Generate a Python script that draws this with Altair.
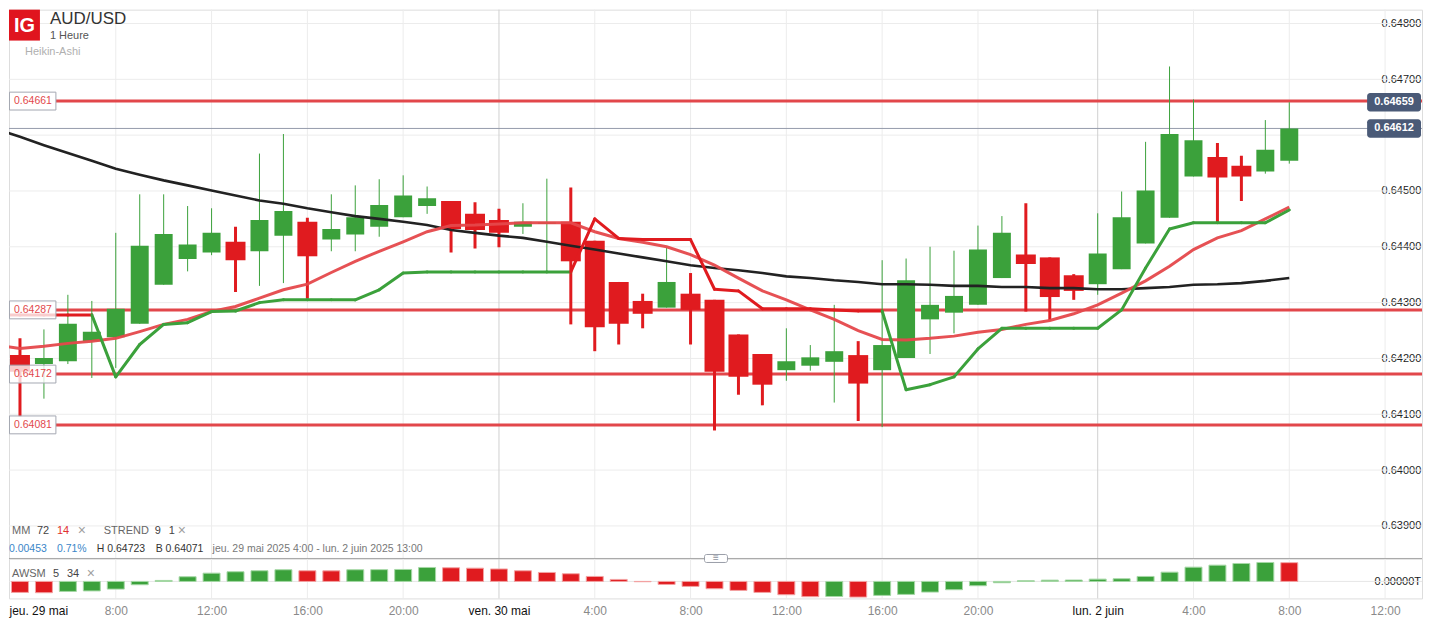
import altair as alt
import pandas as pd

# ---------------- data ----------------
open_ = [0.64234, 0.64206, 0.64190, 0.64195, 0.64231, 0.64238, 0.64262, 0.64332, 0.64378, 0.64390,
         0.64409, 0.64392, 0.64420, 0.64445, 0.64413, 0.64422, 0.64436, 0.64453, 0.64473, 0.64482,
         0.64459, 0.64448, 0.64436, 0.64441, 0.64445, 0.64411, 0.64337, 0.64303, 0.64291, 0.64316,
         0.64305, 0.64243, 0.64208, 0.64179, 0.64187, 0.64194, 0.64206, 0.64179, 0.64201, 0.64270,
         0.64282, 0.64296, 0.64344, 0.64386, 0.64381, 0.64349, 0.64333, 0.64360, 0.64406, 0.64452,
         0.64526, 0.64561, 0.64545, 0.64535, 0.64554]
close_ = [0.64190, 0.64176, 0.64201, 0.64262, 0.64248, 0.64289, 0.64402, 0.64423, 0.64404, 0.64425,
          0.64376, 0.64448, 0.64464, 0.64383, 0.64432, 0.64453, 0.64475, 0.64492, 0.64487, 0.64432,
          0.64430, 0.64425, 0.64445, 0.64444, 0.64374, 0.64256, 0.64262, 0.64280, 0.64337, 0.64287,
          0.64176, 0.64167, 0.64153, 0.64195, 0.64202, 0.64213, 0.64155, 0.64224, 0.64340, 0.64296,
          0.64312, 0.64395, 0.64425, 0.64369, 0.64310, 0.64321, 0.64388, 0.64453, 0.64501, 0.64602,
          0.64591, 0.64524, 0.64526, 0.64574, 0.64612]
high_ = [0.64240, 0.64236, 0.64252, 0.64314, 0.64303, 0.64425, 0.64494, 0.64494, 0.64473, 0.64469,
         0.64436, 0.64567, 0.64602, 0.64452, 0.64494, 0.64510, 0.64521, 0.64528, 0.64508, 0.64482,
         0.64480, 0.64468, 0.64478, 0.64522, 0.64506, 0.64411, 0.64337, 0.64316, 0.64399, 0.64353,
         0.64305, 0.64243, 0.64208, 0.64254, 0.64224, 0.64296, 0.64231, 0.64376, 0.64379, 0.64400,
         0.64393, 0.64438, 0.64455, 0.64478, 0.64381, 0.64351, 0.64460, 0.64499, 0.64588, 0.64723,
         0.64664, 0.64586, 0.64563, 0.64627, 0.64659]
low_ = [0.64185, 0.64096, 0.64128, 0.64190, 0.64165, 0.64183, 0.64262, 0.64332, 0.64356, 0.64385,
        0.64319, 0.64330, 0.64335, 0.64307, 0.64392, 0.64392, 0.64418, 0.64453, 0.64459, 0.64390,
        0.64397, 0.64399, 0.64423, 0.64356, 0.64261, 0.64213, 0.64225, 0.64254, 0.64291, 0.64225,
        0.64071, 0.64135, 0.64116, 0.64160, 0.64178, 0.64121, 0.64088, 0.64077, 0.64201, 0.64208,
        0.64245, 0.64296, 0.64344, 0.64284, 0.64268, 0.64305, 0.64314, 0.64360, 0.64406, 0.64452,
        0.64526, 0.64443, 0.64482, 0.64531, 0.64549]
mm72 = [0.64611, 0.64597, 0.64582, 0.64568, 0.64554, 0.64540, 0.64529, 0.64519, 0.64510, 0.64501,
        0.64492, 0.64483, 0.64477, 0.64469, 0.64462, 0.64455, 0.64450, 0.64445, 0.64439, 0.64430,
        0.64425, 0.64420, 0.64416, 0.64409, 0.64402, 0.64395, 0.64388, 0.64381, 0.64374, 0.64367,
        0.64362, 0.64358, 0.64353, 0.64347, 0.64344, 0.64340, 0.64337, 0.64333, 0.64333, 0.64332,
        0.64330, 0.64330, 0.64328, 0.64328, 0.64326, 0.64326, 0.64324, 0.64324, 0.64326, 0.64328,
        0.64332, 0.64333, 0.64335, 0.64339, 0.64344]
mm14 = [0.64224, 0.64218, 0.64222, 0.64227, 0.64231, 0.64236, 0.64248, 0.64261, 0.64270, 0.64284,
        0.64293, 0.64308, 0.64323, 0.64333, 0.64354, 0.64374, 0.64392, 0.64409, 0.64427, 0.64438,
        0.64439, 0.64441, 0.64443, 0.64443, 0.64443, 0.64427, 0.64415, 0.64408, 0.64400, 0.64386,
        0.64367, 0.64344, 0.64321, 0.64305, 0.64287, 0.64270, 0.64250, 0.64234, 0.64233, 0.64236,
        0.64240, 0.64247, 0.64252, 0.64261, 0.64268, 0.64280, 0.64296, 0.64317, 0.64339, 0.64365,
        0.64395, 0.64416, 0.64429, 0.64450, 0.64471]
strend = [0.64278, 0.64278, 0.64278, 0.64278, 0.64278, 0.64167, 0.64225, 0.64261, 0.64264, 0.64284,
          0.64285, 0.64300, 0.64305, 0.64305, 0.64305, 0.64305, 0.64323, 0.64353, 0.64355, 0.64355,
          0.64355, 0.64355, 0.64355, 0.64355, 0.64355, 0.64450, 0.64415, 0.64413, 0.64413, 0.64413,
          0.64324, 0.64321, 0.64289, 0.64289, 0.64289, 0.64287, 0.64285, 0.64285, 0.64144, 0.64153,
          0.64167, 0.64217, 0.64254, 0.64254, 0.64254, 0.64254, 0.64254, 0.64287, 0.64362, 0.64432,
          0.64443, 0.64443, 0.64443, 0.64443, 0.64466]
awsm = [-0.00020, -0.00022, -0.000226, -0.00020, -0.00019, -0.000154, -0.000066, 0.00002, 0.000094, 0.000166,
        0.000194, 0.000214, 0.000234, 0.000214, 0.000212, 0.000234, 0.000236, 0.00024, 0.00028, 0.000274,
        0.000266, 0.00025, 0.000214, 0.00018, 0.000154, 0.0001, 0.00004, -0.000006, -0.00006, -0.0001,
        -0.000146, -0.00018, -0.00022, -0.000266, -0.000306, -0.000302, -0.000314, -0.00028, -0.00026, -0.000214,
        -0.000166, -0.000086, -0.000026, 0.000014, 0.000026, 0.000028, 0.000046, 0.000054, 0.0001, 0.000186,
        0.000286, 0.000326, 0.00036, 0.00038, 0.000376]

levels = [0.64661, 0.64287, 0.64172, 0.64081]
price_ticks = [0.639, 0.640, 0.641, 0.642, 0.643, 0.644, 0.645, 0.646, 0.647, 0.648]
hidden_ticks = [0.646]  # covered by the current-price tag in the reference
time_ticks = [1, 5, 9, 13, 17, 21, 25, 29, 33, 37, 41, 46, 50, 54, 58]
time_labels = ["jeu. 29 mai", "8:00", "12:00", "16:00", "20:00", "ven. 30 mai", "4:00", "8:00",
               "12:00", "16:00", "20:00", "lun. 2 juin", "4:00", "8:00", "12:00"]
date_ticks = [1, 21, 46]

# ---------------- styling ----------------
FONT = "Liberation Sans"
GREEN = "#3ba13b"
RED = "#e01b1f"
LEVEL_RED = "#e2474b"
W, HT, HB = 1416, 550, 40
AW_DOMAIN = [-0.00034, 0.00046]

xs = alt.Scale(domain=[0.5417, 59.5417], nice=False, zero=False, padding=0)
ys = alt.Scale(domain=[0.638417, 0.648248], nice=False, zero=False, padding=0)
ws = alt.Scale(domain=AW_DOMAIN, nice=False, zero=False, padding=0)

label_ticks = [p for p in price_ticks if p not in hidden_ticks]
yaxis = alt.Axis(orient="right", offset=-41, values=label_ticks, format=".5f", grid=False,
                 ticks=False, domain=False, labelPadding=0, labelAlign="left", labelFontSize=11,
                 labelColor="#222222", labelFont=FONT, title=None)

label_expr = "[" + ",".join("'%s'" % s for s in time_labels) + "][indexof([" + \
    ",".join(str(t) for t in time_ticks) + "], datum.value)]"
date_test = " || ".join("datum.value == %d" % t for t in date_ticks)
xaxis_b = alt.Axis(values=time_ticks, labelExpr=label_expr, grid=False, ticks=False, domain=False,
                   labelPadding=7, labelFontSize=12, labelFont=FONT, labelFlush=20, labelFlushOffset=11,
                   labelColor={"condition": {"test": date_test, "value": "#111111"}, "value": "#8a8a8a"},
                   title=None)
waxis = alt.Axis(orient="right", offset=-48, values=[0], labelExpr="'0.00000T'", grid=False, ticks=False,
                 domain=False, labelPadding=0, labelAlign="left", labelFontSize=11, labelColor="#222222",
                 labelFont=FONT, title=None)


def X(f):
    return alt.X(f, type="quantitative", scale=xs, axis=None)


def Y(f):
    return alt.Y(f, type="quantitative", scale=ys, axis=yaxis)


def XB(f):
    return alt.X(f, type="quantitative", scale=xs, axis=xaxis_b)


def YW(f):
    return alt.Y(f, type="quantitative", scale=ws, axis=waxis)


n = len(open_)
df = pd.DataFrame(dict(i=list(range(n)), open=open_, high=high_, low=low_, close=close_,
                       mm72=mm72, mm14=mm14, st=strend, aw=awsm))
df["up"] = df["close"] >= df["open"]
df["st_up"] = df["st"] < df["close"]
df["aw_up"] = df["aw"].diff() > 0
df["zero"] = 0.0

seg = pd.DataFrame({"x0": df["i"].shift(1), "x1": df["i"], "y0": df["st"].shift(1),
                    "y1": df["st"], "up": df["st_up"]}).dropna()

vg = pd.DataFrame({"t": time_ticks, "date": [t in date_ticks for t in time_ticks]})
vg = vg[vg["t"] != time_ticks[0]]

dummy = pd.DataFrame({"k": [0]})
base = alt.Chart(df)


def txt(text, x, y, color="#666666", size=11, weight="normal", align="left"):
    return alt.Chart(dummy).mark_text(text=text, align=align, baseline="middle", color=color,
                                      fontSize=size, fontWeight=weight, font=FONT).encode(
        x=alt.value(x), y=alt.value(y))


# ---------------- price pane ----------------
hgrid = alt.Chart(pd.DataFrame({"p": price_ticks})).mark_rule(color="#ececec", strokeWidth=1).encode(
    y=Y("p"), x=alt.value(0), x2=alt.value(W))
vgrid = alt.Chart(vg).mark_rule(strokeWidth=1).encode(
    x=X("t"), y=alt.value(0), y2=alt.value(HT),
    color=alt.condition("datum.date", alt.value("#d0d0d0"), alt.value("#ececec")))
lvl = alt.Chart(pd.DataFrame({"p": levels})).mark_rule(color=LEVEL_RED, strokeWidth=3).encode(
    y=Y("p"), x=alt.value(47), x2=alt.value(W))
last = alt.Chart(pd.DataFrame({"p": [close_[-1]]})).mark_rule(color="#959cab", strokeWidth=1).encode(
    y=Y("p"), x=alt.value(0), x2=alt.value(W))

wick_up = base.transform_filter("datum.up").mark_rule(color=GREEN, strokeWidth=1, clip=True).encode(
    x=X("i"), y=Y("low"), y2="high")
wick_dn = base.transform_filter("!datum.up").mark_rule(color=RED, strokeWidth=3, clip=True).encode(
    x=X("i"), y=Y("low"), y2="high")
body_up = base.transform_filter("datum.up").mark_bar(color=GREEN, size=18, clip=True).encode(
    x=X("i"), y=Y("open"), y2="close")
body_dn = base.transform_filter("!datum.up").mark_bar(color=RED, size=20, clip=True).encode(
    x=X("i"), y=Y("open"), y2="close")

line72 = base.mark_line(color="#222222", strokeWidth=2.6, clip=True).encode(x=X("i"), y=Y("mm72"))
line14 = base.mark_line(color="#e5484b", strokeWidth=3, clip=True, opacity=0.95).encode(x=X("i"), y=Y("mm14"))
st_line = alt.Chart(seg).mark_rule(strokeWidth=3, strokeCap="round", clip=True).encode(
    x=X("x0"), x2="x1", y=Y("y0"), y2="y1",
    color=alt.condition("datum.up", alt.value(GREEN), alt.value(RED)))

lvl_df = pd.DataFrame({"p": levels})
lbox = alt.Chart(lvl_df).transform_calculate(hi="datum.p + 0.00016", lo="datum.p - 0.00016").mark_rect(
    fill="white", fillOpacity=0.78, stroke="#a4a8b2", strokeWidth=1).encode(
    x=alt.value(0.5), x2=alt.value(47), y=Y("hi"), y2="lo")
ltxt = alt.Chart(lvl_df).mark_text(align="center", baseline="middle", color=LEVEL_RED, fontSize=10.5,
                                   font=FONT).encode(x=alt.value(24), y=Y("p"), text=alt.Text("p:Q", format=".5f"))

tag_df = pd.DataFrame({"p": [high_[-1], close_[-1]]})
rbox = alt.Chart(tag_df).transform_calculate(hi="datum.p + 0.000165", lo="datum.p - 0.000165").mark_rect(
    fill="#4a5a77", cornerRadius=3).encode(x=alt.value(1361), x2=alt.value(1415), y=Y("hi"), y2="lo")
rtxt = alt.Chart(tag_df).mark_text(align="center", baseline="middle", color="white", fontSize=11,
                                   fontWeight="bold", font=FONT).encode(
    x=alt.value(1388), y=Y("p"), text=alt.Text("p:Q", format=".5f"))

logo = alt.Chart(dummy).mark_rect(fill="#e0141e").encode(
    x=alt.value(0), x2=alt.value(31), y=alt.value(0), y2=alt.value(31))

header = [
    logo,
    txt("IG", 15.5, 16.5, "white", 20, "bold", "center"),
    txt("AUD/USD", 41, 9, "#333333", 17),
    txt("1 Heure", 41, 26, "#555555", 11),
    txt("Heikin-Ashi", 16, 42.5, "#b0b0b0", 11),
    txt("MM", 3, 522, "#666666", 11),
    txt("72", 28, 522, "#444444", 11),
    txt("14", 48, 522, "#e03030", 11),
    txt("\u00d7", 69, 522, "#a0a0a0", 14),
    txt("STREND", 95, 522, "#666666", 11),
    txt("9", 146, 522, "#444444", 11),
    txt("1", 160, 522, "#444444", 11),
    txt("\u00d7", 169, 522, "#a0a0a0", 14),
    txt("0.00453", 0, 541, "#3a86c8", 10.5),
    txt("0.71%", 48, 541, "#3a86c8", 10.5),
    txt("H 0.64723", 88, 541, "#333333", 10.5),
    txt("B 0.64071", 147, 541, "#333333", 10.5),
    txt("jeu. 29 mai 2025 4:00 - lun. 2 juin 2025 13:00", 204, 541, "#777777", 10.5),
]

top = alt.layer(hgrid, vgrid, lvl, last, wick_up, wick_dn, body_up, body_dn, line72, line14, st_line,
                lbox, ltxt, rbox, rtxt, *header).properties(width=W, height=HT)

# ---------------- AWSM pane ----------------
bvgrid = alt.Chart(vg).mark_rule(strokeWidth=1).encode(
    x=XB("t"), y=alt.value(0), y2=alt.value(HB),
    color=alt.condition("datum.date", alt.value("#d0d0d0"), alt.value("#ececec")))
zline = alt.Chart(pd.DataFrame({"z": [0.0]})).mark_rule(color="#e6e6e6", strokeWidth=1).encode(
    y=YW("z"), x=alt.value(0), x2=alt.value(W))
bars = base.mark_bar(size=17, strokeWidth=1, clip=True).encode(
    x=XB("i"), y=YW("aw"), y2="zero",
    color=alt.condition("datum.aw_up", alt.value(GREEN), alt.value(RED)),
    stroke=alt.condition("datum.aw_up", alt.value("#a6d8a6"), alt.value("#f3a3a3")))
pane_top = AW_DOMAIN[1]
sep = alt.Chart(pd.DataFrame({"z": [pane_top]})).mark_rule(color="#a8a8a8", strokeWidth=1).encode(
    y=YW("z"), x=alt.value(0), x2=alt.value(W))
hrect = alt.Chart(pd.DataFrame({"z": [pane_top]})).transform_calculate(
    lo="datum.z - 0.00008", hi="datum.z + 0.00008").mark_rect(
    fill="white", stroke="#9a9ea8", strokeWidth=1, cornerRadius=2).encode(
    y=YW("lo"), y2="hi", x=alt.value(697), x2=alt.value(720))
hmark = alt.Chart(pd.DataFrame({"z": [pane_top]})).mark_text(
    text="\u2261", fontSize=10, color="#8d929c", baseline="middle", align="center").encode(
    y=YW("z"), x=alt.value(708.5))

bottom = alt.layer(
    bvgrid, zline, bars, sep, hrect, hmark,
    txt("AWSM", 3, 16, "#666666", 11),
    txt("5", 44, 16, "#444444", 11),
    txt("34", 58, 16, "#444444", 11),
    txt("\u00d7", 78, 16, "#a0a0a0", 14),
).properties(width=W, height=HB)

chart = alt.vconcat(top, bottom, spacing=0).properties(
    padding=0, bounds="flush", background="white"
).configure_view(stroke=None, strokeWidth=0).configure_axis(domain=False).configure(font=FONT)

chart.save("out.html", embed_options={"renderer": "svg", "actions": False})
